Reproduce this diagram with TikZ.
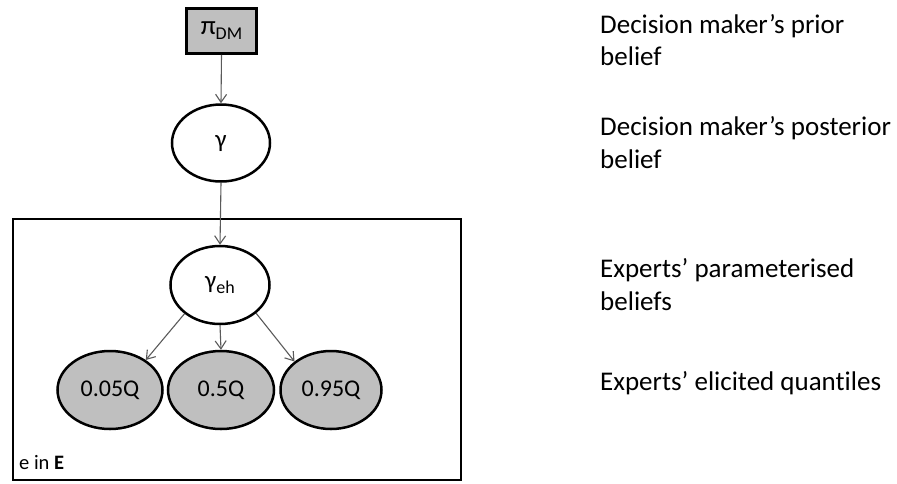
\documentclass[tikz,border=0pt]{standalone}
\usepackage{fontspec}
\setmainfont{Carlito}[Ligatures={NoCommon}]
\usetikzlibrary{shapes.geometric,arrows.meta}
\definecolor{qgray}{RGB}{191,191,191}
\definecolor{arrgray}{RGB}{90,90,90}
\begin{document}
\begin{tikzpicture}[x=1pt,y=-1pt,
  latent/.style={ellipse,draw=black,line width=2.5pt,fill=white,inner sep=0pt,
    minimum width=98pt,minimum height=77pt,font=\fontsize{25}{30}\selectfont},
  observed/.style={latent,fill=qgray,font=\fontsize{24}{30}\selectfont},
  fixedbox/.style={rectangle,draw=black,line width=2.8pt,fill=qgray,inner sep=0pt,
    minimum width=70pt,minimum height=45pt},
  plate/.style={draw=black,line width=2pt},
  edge/.style={draw=arrgray,line width=1.1pt,-{Straight Barb[length=8pt,width=11pt]}},
  desc/.style={anchor=base west,inner sep=0pt,font=\fontsize{27}{32}\selectfont},
]
\useasboundingbox (0,0) rectangle (897,483);
% plate
\draw[plate] (13,219) rectangle (461,480);
\node[anchor=base west,inner sep=0pt,font=\fontsize{20.5}{24}\selectfont] (plabel) at (19,469) {e in \textbf{E}};
% nodes
\node[fixedbox] (pi) at (221.5,31) {\fontsize{27}{32}\selectfont π\raisebox{-5pt}{\fontsize{18}{20}\selectfont DM}};
\node[latent] (gamma) at (221,143) {γ};
\node[latent,minimum width=99pt,minimum height=78pt] (geh) at (220,285) {γ\raisebox{-5pt}{\fontsize{18}{20}\selectfont eh}};
\node[observed,minimum width=105pt,minimum height=78pt] (q1) at (110,390) {0.05Q};
\node[observed,minimum width=106pt,minimum height=78pt] (q2) at (221,390) {0.5Q};
\node[observed,minimum width=101pt,minimum height=78pt] (q3) at (331,390) {0.95Q};
% edges
\draw[edge] (pi.south) -- (gamma.north);
\draw[edge] (gamma.south) -- (geh.north);
\draw[edge] (geh.219) -- (q1.40);
\draw[edge] (geh.south) -- (q2.north);
\draw[edge] (geh.322) -- (q3.142);
% descriptions
\node[desc] (d1a) at (600,33) {Decision maker’s prior};
\node[desc] (d1b) at (600,65) {belief};
\node[desc] (d2a) at (600,135) {Decision maker’s posterior};
\node[desc] (d2b) at (600,168) {belief};
\node[desc] (d3a) at (600,277) {Experts’ parameterised};
\node[desc] (d3b) at (600,310) {beliefs};
\node[desc] (d4) at (600,390) {Experts’ elicited quantiles};
\end{tikzpicture}
\end{document}
